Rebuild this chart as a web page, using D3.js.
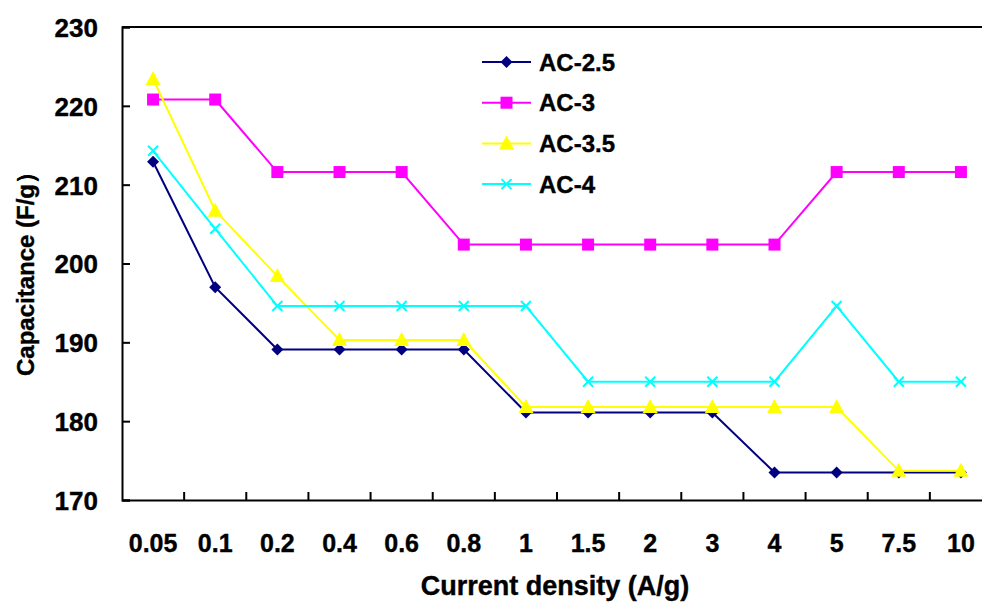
<!DOCTYPE html>
<html>
<head>
<meta charset="utf-8">
<script src="https://cdn.jsdelivr.net/npm/d3@7"></script>
<style>
  body { margin: 0; background: #fff; }
  svg text { font-family: Arial, "Liberation Sans", sans-serif; font-weight: bold; fill: #000; }
</style>
</head>
<body>
<div id="chart"></div>
<script>
const categories = ["0.05", "0.1", "0.2", "0.4", "0.6", "0.8", "1", "1.5", "2", "3", "4", "5", "7.5", "10"];
const ac25 = [212.9, 197.0, 189.1, 189.1, 189.1, 189.1, 181.1, 181.1, 181.1, 181.1, 173.5, 173.5, 173.5, 173.5];
const ac3 = [220.8, 220.8, 211.6, 211.6, 211.6, 202.4, 202.4, 202.4, 202.4, 202.4, 202.4, 211.6, 211.6, 211.6];
const ac35 = [223.4, 206.7, 198.4, 190.3, 190.3, 190.3, 181.8, 181.8, 181.8, 181.8, 181.8, 181.8, 173.7, 173.7];
const ac4 = [214.3, 204.4, 194.6, 194.6, 194.6, 194.6, 194.6, 185.0, 185.0, 185.0, 185.0, 194.6, 185.0, 185.0];
const yTicks = [170, 180, 190, 200, 210, 220, 230];

const series = [
  { name: "AC-2.5", values: ac25, color: "#000080", marker: "diamond" },
  { name: "AC-3", values: ac3, color: "#ff00ff", marker: "square" },
  { name: "AC-3.5", values: ac35, color: "#ffff00", marker: "triangle" },
  { name: "AC-4", values: ac4, color: "#00ffff", marker: "cross" },
];

const W = 982, H = 603;
const plotL = 122, plotT = 27, plotB = 500, plotR = 992;

const svg = d3.select("#chart").append("svg")
  .attr("width", W).attr("height", H);

const x = d3.scaleBand().domain(categories).range([plotL, plotR]);
const y = d3.scaleLinear().domain([170, 230]).range([plotB, plotT]);

// frame: top line + axes
svg.append("line")
  .attr("x1", plotL).attr("x2", W).attr("y1", plotT).attr("y2", plotT)
  .attr("stroke", "#000").attr("stroke-width", 2);

const yAxis = svg.append("g")
  .attr("transform", `translate(${plotL},0)`)
  .call(d3.axisLeft(y).tickValues(yTicks).tickSize(-8).tickPadding(24));
yAxis.select(".domain").attr("stroke-width", 2);
yAxis.selectAll(".tick line").attr("stroke-width", 2);
yAxis.selectAll(".tick text").style("font-size", "26px").attr("dy", "0.36em")
  .attr("stroke", "#000").attr("stroke-width", 0.4);

const xAxis = svg.append("g")
  .attr("transform", `translate(0,${plotB})`)
  .call(d3.axisBottom(x).tickSize(0).tickPadding(34));
xAxis.select(".domain").attr("stroke-width", 2);
xAxis.selectAll(".tick text").style("font-size", "25px")
  .attr("stroke", "#000").attr("stroke-width", 0.4);

// x ticks sit on category boundaries, pointing inward
svg.append("g").selectAll("line")
  .data(categories.slice(1))
  .join("line")
  .attr("x1", d => x(d)).attr("x2", d => x(d))
  .attr("y1", plotB).attr("y2", plotB - 8)
  .attr("stroke", "#000").attr("stroke-width", 2);

// axis titles
svg.append("text")
  .attr("x", 555).attr("y", 595)
  .attr("text-anchor", "middle")
  .style("font-size", "27px")
  .attr("stroke", "#000").attr("stroke-width", 0.4)
  .text("Current density (A/g)");

svg.append("text")
  .attr("transform", "translate(34,268) rotate(-90)")
  .attr("text-anchor", "middle")
  .style("font-size", "24px")
  .attr("stroke", "#000").attr("stroke-width", 0.4)
  .text("Capacitance (F/g）");

const cx = (d, i) => x(categories[i]) + x.bandwidth() / 2;

function drawMarker(g, type, color) {
  if (type === "diamond") {
    g.append("path").attr("d", "M0,-6L6,0L0,6L-6,0Z").attr("fill", color);
  } else if (type === "square") {
    g.append("rect").attr("x", -6).attr("y", -6).attr("width", 12).attr("height", 12).attr("fill", color);
  } else if (type === "triangle") {
    g.append("path").attr("d", "M0,-8L7.5,6L-7.5,6Z").attr("fill", color);
  } else {
    g.append("path").attr("d", "M-5,-5L5,5M-5,5L5,-5")
      .attr("stroke", color).attr("stroke-width", 2).attr("fill", "none");
  }
}

const line = d3.line().x(cx).y(d => y(d));

series.forEach(s => {
  svg.append("path")
    .datum(s.values)
    .attr("fill", "none")
    .attr("stroke", s.color)
    .attr("stroke-width", 2)
    .attr("d", line);
  s.values.forEach((v, i) => {
    const g = svg.append("g").attr("transform", `translate(${cx(v, i)},${y(v)})`);
    drawMarker(g, s.marker, s.color);
  });
});

// legend
const legend = svg.append("g").attr("transform", "translate(482,62)");
series.forEach((s, i) => {
  const row = legend.append("g").attr("transform", `translate(0,${i * 40.7})`);
  row.append("line").attr("x1", 0).attr("x2", 49).attr("stroke", s.color).attr("stroke-width", 2);
  drawMarker(row.append("g").attr("transform", "translate(24.5,0)"), s.marker, s.color);
  row.append("text").attr("x", 57).attr("dy", "0.36em").style("font-size", "24px")
    .attr("stroke", "#000").attr("stroke-width", 0.4)
    .text(s.name);
});
</script>
</body>
</html>
